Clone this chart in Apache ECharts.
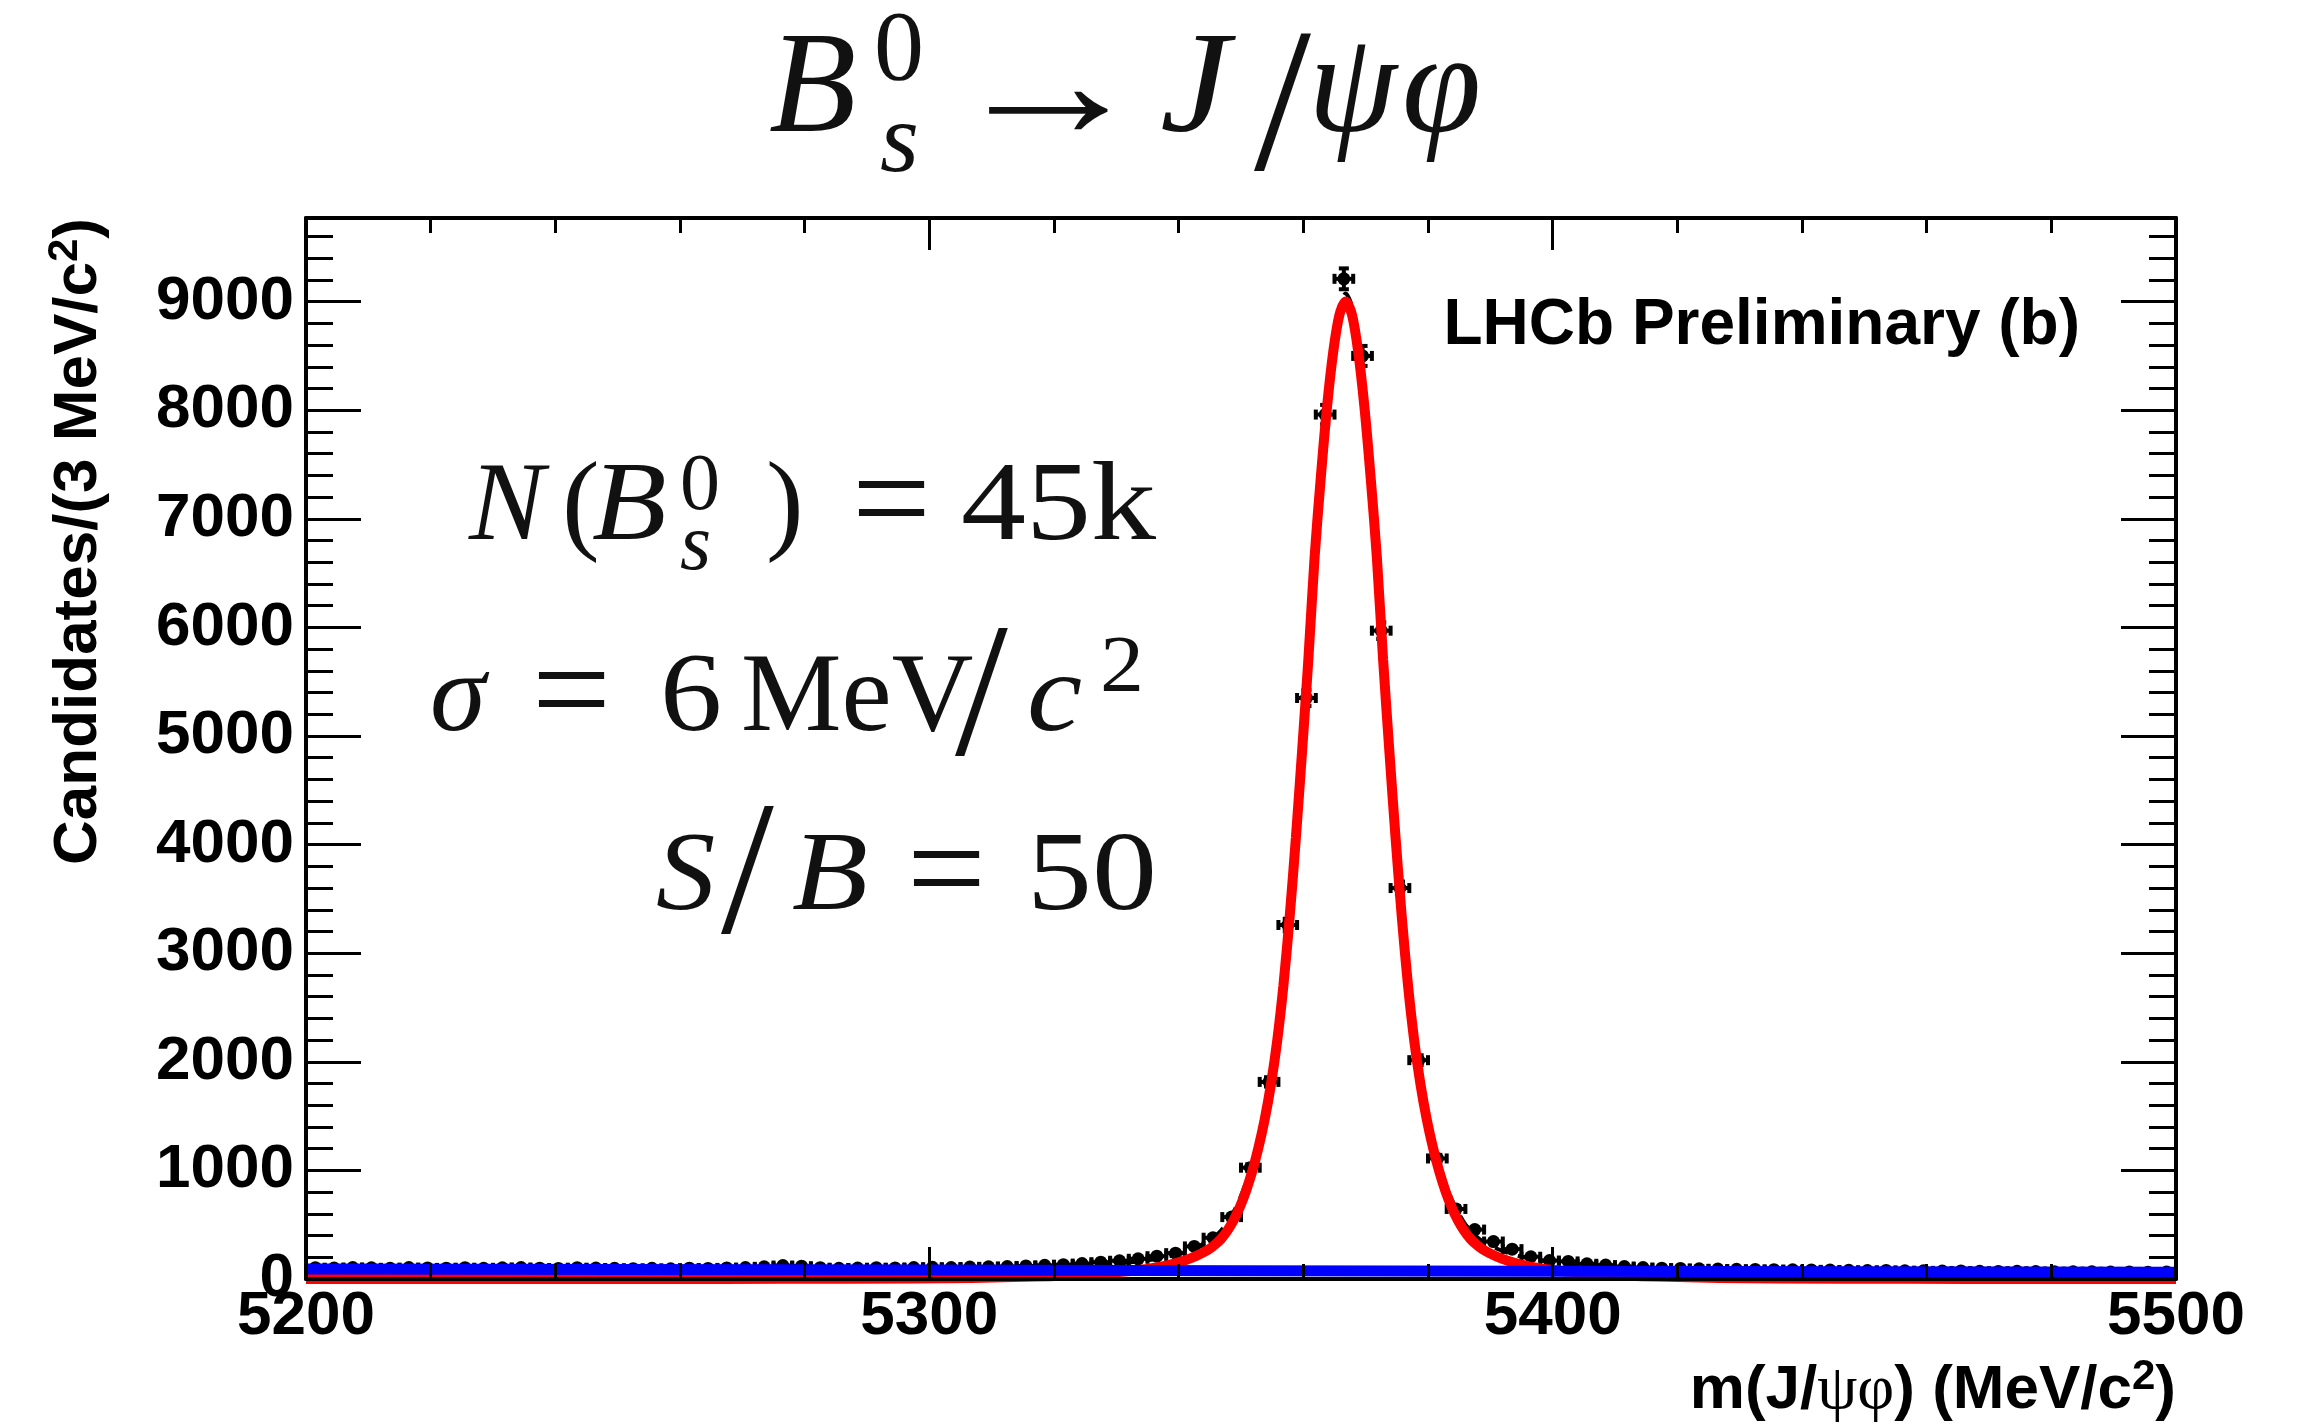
<!DOCTYPE html>
<html><head><meta charset="utf-8">
<script src="https://cdn.jsdelivr.net/npm/echarts@6/dist/echarts.min.js"></script>
<style>html,body{margin:0;padding:0;background:#fff}#chart{width:2300px;height:1424px}</style>
</head><body><div id="chart"></div>
<script>
// ---------------- data ----------------
const binStart = 5200, binWidth = 3;           // 3 MeV bins, 5200..5500
const counts = [104,101,106,103,99,105,102,100,104,98,
                103,106,100,97,104,101,99,95,98,94,
                100,97,102,105,112,124,118,104,99,101,
                104,102,106,108,105,110,112,115,120,126,
                132,142,155,168,186,210,238,300,380,570,
                1025,1815,3260,5350,7960,9210,8500,5970,3600,2015,
                1110,645,455,345,275,205,170,162,140,128,
                115,106,100,97,94,91,89,88,86,85,
                84,82,80,78,79,76,75,73,74,71,
                70,71,68,67,66,67,64,65,63,64];
const errors = [10,10,10,10,10,10,10,10,10,10,
                10,10,10,10,10,10,10,10,10,10,
                10,10,10,10,11,11,11,10,10,10,
                10,10,10,10,10,10,11,11,11,11,
                11,12,12,13,14,14,15,17,19,24,
                32,43,57,73,89,96,92,77,60,45,
                33,25,21,19,17,14,13,13,12,11,
                11,10,10,10,10,10,9,9,9,9,
                9,9,9,9,9,9,9,9,9,8,
                8,8,8,8,8,8,8,8,8,8];
// fitted signal component (red) and total fit (black dashed)
const sigMass = [5200,5240,5266.8,5286.8,5306.8,5316.8,5321.8,5326.8,5330.8,5333.8,
                 5336.8,5338.8,5340.8,5342.8,5344.8,5345.8,5346.8,5347.8,5348.8,5349.8,
                 5350.8,5351.8,5352.8,5353.8,5354.8,5355.8,5356.8,5357.8,5358.8,5359.8,
                 5360.8,5361.8,5362.8,5363.8,5364.8,5365.8,5366.8,5367.8,5368.8,5369.8,
                 5370.8,5371.8,5372.8,5373.8,5374.8,5375.8,5376.8,5377.8,5378.8,5379.8,
                 5380.8,5381.8,5382.8,5383.8,5384.8,5385.8,5386.8,5387.8,5388.8,5390.8,
                 5392.8,5394.8,5396.8,5399.8,5402.8,5406.8,5411.8,5416.8,5426.8,5446.8,
                 5466.8,5500];
const sigVals = [0,0,1,3,10,22,32,48,66,85,
                 110,135,168,212,272,315,370,445,540,660,
                 810,990,1210,1470,1790,2190,2700,3330,4060,4860,
                 5700,6640,7380,8030,8540,8880,9000,8880,8540,8030,
                 7380,6640,5700,4860,4060,3330,2700,2190,1790,1470,
                 1210,990,810,660,540,445,370,315,272,212,
                 168,135,110,85,66,48,32,22,10,3,
                 1,0];
const totVals = [92,88,86,86,91,102,112,127,145,164,
                 188,213,246,290,350,392,447,522,617,737,
                 887,1067,1287,1547,1867,2266,2776,3406,4136,4936,
                 5776,6716,7456,8106,8616,8956,9075,8955,8615,8105,
                 7455,6715,5775,4935,4135,3405,2775,2265,1865,1545,
                 1285,1065,885,735,615,520,445,390,347,285,
                 241,208,182,157,138,119,103,92,79,70,
                 66,62];
// background component (blue)
const bgMass = [5200,5250,5300,5350,5400,5450,5500];
const bgVals = [92,87,82,77,72,67,62];
// axes
const xMin = 5200, xMax = 5500, xStep = 100;
const yMin = 0, yMax = 9770, yStep = 1000, yMinorStep = 200;

// ---------------- chart ----------------
const chart = echarts.init(document.getElementById('chart'), null, {renderer:'canvas'});
const BLK = '#000';
const SANS = '"Liberation Sans", Arial, Helvetica, sans-serif';
const SERIF = '"Liberation Serif", "DejaVu Serif", serif';

const dataPts = counts.map((c, i) => [binStart + binWidth * (i + 0.5), c, errors[i]]);
const pairs = (xs, ys) => xs.map((x, i) => [x, ys[i]]);

function xAx(pos, showLabel) {
  return {
    type:'value', min:xMin, max:xMax, interval:xStep, position:pos, z:10,
    axisLine:{show:true, onZero:false, lineStyle:{color:BLK, width:4}},
    axisTick:{show:true, inside:true, length:32, lineStyle:{color:BLK, width:3}},
    minorTick:{show:true, splitNumber:5, length:15, lineStyle:{color:BLK, width:3}},
    splitLine:{show:false}, minorSplitLine:{show:false},
    axisLabel:{show:showLabel, margin:7, fontSize:62, fontWeight:'bold', fontFamily:SANS, color:BLK,
      formatter: v => String(v)}
  };
}
function yAx(pos, step, len, showLine, showLabel) {
  return {
    type:'value', min:yMin, max:yMax, interval:step, position:pos, z:10,
    axisLine:{show:showLine, onZero:false, lineStyle:{color:BLK, width:4}},
    axisTick:{show:true, inside:true, length:len, lineStyle:{color:BLK, width:3}},
    minorTick:{show:false}, splitLine:{show:false},
    axisLabel:{show:showLabel, margin:12, fontSize:62, fontWeight:'bold', fontFamily:SANS, color:BLK,
      showMaxLabel:false,
      formatter: v => (v % yStep === 0 ? String(v) : '')}
  };
}

function glyph(text, x, base, size, italic, sx) {
  return {type:'text', x:x, y:base - 0.3375 * size, scaleX:(sx || 1), z:100, silent:true,
    style:{text:text, font:(italic ? 'italic ' : '') + size + 'px ' + SERIF,
      fill:'#111', textAlign:'left', textVerticalAlign:'middle'}};
}
const T = 143, Ts = 100, A = 113, As = 80, EQ = 140, SL = 190;
const texts = [
  // title  B_s^0 -> J/psi phi
  glyph('B', 769, 142, T, true),
  glyph('0', 874, 86, Ts, false),
  glyph('s', 880, 178, Ts, true),
  glyph('\u2192', 948, 149, 160, false, 1.25),
  glyph('J', 1160, 142, T, true, 1.1),
  glyph('/', 1254, 184, 205, false),
  glyph('\u03C8', 1308, 142, T, true),
  glyph('\u03C6', 1402, 142, T, true),
  // N(B_s^0) = 45k
  glyph('N', 469, 547, A, true),
  glyph('(', 562, 547, A, false),
  glyph('B', 592, 547, A, true, 1.08),
  glyph('0', 680, 515, As, false),
  glyph('s', 680, 575, As, true),
  glyph(')', 766, 547, A, false),
  glyph('=', 852, 555, EQ, false),
  glyph('45k', 961, 547, A, false, 1.15),
  // sigma = 6 MeV/c^2
  glyph('\u03C3', 430, 738, A, true),
  glyph('=', 532, 746, EQ, false),
  glyph('6', 660, 738, A, false, 1.1),
  glyph('MeV', 741, 738, A, false),
  glyph('/', 955, 768, SL, false),
  glyph('c', 1027, 738, A, true, 1.1),
  glyph('2', 1100, 697, As, false, 1.1),
  // S/B = 50
  glyph('S', 656, 917, A, true, 1.05),
  glyph('/', 721, 946, SL, false),
  glyph('B', 792, 917, A, true, 1.1),
  glyph('=', 907, 925, EQ, false),
  glyph('50', 1027, 917, A, false, 1.15),
  // LHCb label
  {type:'text', x:2080, y:326, z:100, silent:true,
   style:{text:'LHCb Preliminary (b)', font:'bold 64px ' + SANS, fill:BLK, textAlign:'right', textVerticalAlign:'middle'}},
  // x-axis title
  {type:'text', x:2176, y:1356, z:100, silent:true,
   style:{text:'{b|m(J/}{g|\u03C8\u03C6}{b|) (MeV/c}{s|2}{b|)}', textAlign:'right', textVerticalAlign:'top',
     rich:{b:{fontSize:62, fontWeight:'bold', fontFamily:SANS, color:BLK, lineHeight:70},
           g:{fontSize:64, fontFamily:SERIF, color:BLK, lineHeight:70},
           s:{fontSize:42, fontWeight:'bold', fontFamily:SANS, color:BLK, lineHeight:30, verticalAlign:'top'}}}},
  // y-axis title (rotated)
  {type:'text', x:44, y:218, rotation:Math.PI / 2, z:100, silent:true,
   style:{text:'{b|Candidates/(3 MeV/c}{s|2}{b|)}', textAlign:'right', textVerticalAlign:'top',
     rich:{b:{fontSize:62, fontWeight:'bold', fontFamily:SANS, color:BLK, lineHeight:70},
           s:{fontSize:42, fontWeight:'bold', fontFamily:SANS, color:BLK, lineHeight:30, verticalAlign:'top'}}}}
];

const option = {
  animation:false,
  backgroundColor:'#fff',
  grid:{left:306, right:124, top:218, bottom:145, containLabel:false, outerBoundsMode:'none'},
  xAxis:[xAx('bottom', true), xAx('top', false)],
  yAxis:[
    yAx('left', yMinorStep, 27, true, false),
    yAx('left', yStep, 55, false, true),
    yAx('right', yMinorStep, 27, true, false),
    yAx('right', yStep, 55, false, false)
  ],
  series:[
    {type:'custom', xAxisIndex:0, yAxisIndex:0, z:2, clip:false,
     encode:{x:0, y:1}, data:dataPts,
     renderItem:function(params, api){
       const x = api.value(0), y = api.value(1), e = api.value(2);
       const c = api.coord([x, y]);
       const l = api.coord([x - binWidth / 2, y]);
       const r = api.coord([x + binWidth / 2, y]);
       const t = api.coord([x, y + e]);
       const b = api.coord([x, y - e]);
       const st = {stroke:BLK, lineWidth:4};
       const cap = 5;
       return {type:'group', children:[
         {type:'line', shape:{x1:l[0], y1:l[1], x2:r[0], y2:r[1]}, style:st},
         {type:'line', shape:{x1:t[0], y1:t[1], x2:b[0], y2:b[1]}, style:st},
         {type:'line', shape:{x1:l[0], y1:l[1]-cap, x2:l[0], y2:l[1]+cap}, style:st},
         {type:'line', shape:{x1:r[0], y1:r[1]-cap, x2:r[0], y2:r[1]+cap}, style:st},
         {type:'line', shape:{x1:t[0]-cap, y1:t[1], x2:t[0]+cap, y2:t[1]}, style:st},
         {type:'line', shape:{x1:b[0]-cap, y1:b[1], x2:b[0]+cap, y2:b[1]}, style:st},
         {type:'circle', shape:{cx:c[0], cy:c[1], r:6.5}, style:{fill:BLK}}
       ]};
     }},
    {type:'line', name:'total', xAxisIndex:0, yAxisIndex:0, z:3, clip:false,
     data:pairs(sigMass, totVals), showSymbol:false, symbol:'none', smooth:0.3,
     lineStyle:{color:BLK, width:4, type:[14, 10]}},
    {type:'line', name:'signal', xAxisIndex:0, yAxisIndex:0, z:4, clip:false,
     data:pairs(sigMass, sigVals), showSymbol:false, symbol:'none', smooth:0.3,
     lineStyle:{color:'#ff0000', width:10}},
    {type:'line', name:'background', xAxisIndex:0, yAxisIndex:0, z:5, clip:false,
     data:pairs(bgMass, bgVals), showSymbol:false, symbol:'none',
     lineStyle:{color:'#0000ff', width:11}}
  ],
  graphic:{elements:texts}
};
chart.setOption(option);
</script>
</body></html>
